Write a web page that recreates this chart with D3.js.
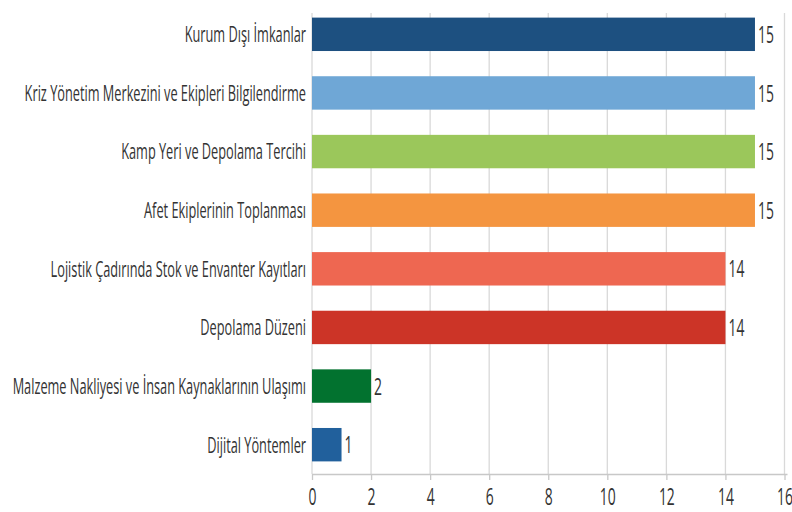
<!DOCTYPE html>
<meta charset="utf-8">
<html>
  <head>
    <title>Bar chart</title>
    <style>
      body { margin: 0; background: #fff; }
      text { font-family: "Open Sans", sans-serif; fill: #333; }
    </style>
  </head>
  <body>
  <script src="https://d3js.org/d3.v7.min.js"></script>
  <script>

  // data
  var categories = [
    "Kurum Dışı İmkanlar",
    "Kriz Yönetim Merkezini ve Ekipleri Bilgilendirme",
    "Kamp Yeri ve Depolama Tercihi",
    "Afet Ekiplerinin Toplanması",
    "Lojistik Çadırında Stok ve Envanter Kayıtları",
    "Depolama Düzeni",
    "Malzeme Nakliyesi ve İnsan Kaynaklarının Ulaşımı",
    "Dijital Yöntemler"
  ];
  var values = [15, 15, 15, 15, 14, 14, 2, 1];
  var barColors = ["#1d5080", "#6fa7d6", "#9bc75b", "#f49540", "#ee6751", "#cc3427", "#02722f", "#21609c"];
  var xTicks = [0, 2, 4, 6, 8, 10, 12, 14, 16];

  var width = 792, height = 512;
  var plotLeft = 312, plotRight = 784.5, plotTop = 5, plotBottom = 474;
  var squeeze = 0.58;   // the picture's text is narrow, squeeze it sideways

  var svg = d3.select("body").append("svg")
      .attr("width", width)
      .attr("height", height);

  var x = d3.scaleLinear()
      .domain([0, 16])
      .range([plotLeft, plotRight]);

  var y = d3.scaleBand()
      .domain(categories)
      .range([plotTop, plotBottom])
      .paddingInner(0.43)
      .paddingOuter(0.215);

  // gridlines
  svg.append("g")
    .selectAll("line")
      .data(xTicks)
    .enter().append("line")
      .attr("x1", function(d){ return x(d); })
      .attr("x2", function(d){ return x(d); })
      .attr("y1", 13)
      .attr("y2", plotBottom)
      .style("stroke", "#d9d9d9")
      .style("stroke-width", 1.3);

  // bars
  svg.append("g")
    .selectAll("rect")
      .data(values)
    .enter().append("rect")
      .attr("x", x(0))
      .attr("y", function(d, i){ return y(categories[i]); })
      .attr("width", function(d){ return x(d) - x(0); })
      .attr("height", y.bandwidth())
      .style("fill", function(d, i){ return barColors[i]; });

  // value labels
  svg.append("g")
    .selectAll("text")
      .data(values)
    .enter().append("text")
      .attr("transform", function(d, i){
        return "translate(" + (x(d) + 3) + "," + (y(categories[i]) + y.bandwidth() / 2) + ") scale(" + squeeze + ",1)";
      })
      .attr("dy", "0.36em")
      .style("font-size", "24px")
      .text(function(d){ return d; });

  // category labels
  var yAxis = d3.axisLeft(y).tickSize(0).tickPadding(0);
  var ga = svg.append("g")
      .attr("transform", "translate(" + plotLeft + ",0)")
      .call(yAxis);
  ga.select(".domain").remove();
  ga.selectAll("text")
      .attr("x", 0)
      .attr("dy", "0.36em")
      .attr("transform", "translate(-6,0) scale(" + squeeze + ",1)")
      .style("font-size", "22px")
      .style("font-family", null)
      .style("fill", "#333");

  // x axis
  var xAxis = d3.axisBottom(x).tickValues(xTicks).tickSize(6).tickPadding(8);
  var gx = svg.append("g")
      .attr("transform", "translate(0," + plotBottom + ")")
      .call(xAxis);
  gx.select(".domain").attr("d", "M" + plotLeft + ",0.5H" + (plotRight + 3)).style("stroke", "#c8c8c8").style("stroke-width", 1.3);
  gx.selectAll(".tick line").style("stroke", "#c8c8c8").style("stroke-width", 1.3);
  gx.selectAll("text")
      .attr("transform", "scale(" + squeeze + ",1)")
      .style("font-size", "24px")
      .style("font-family", null)
      .style("fill", "#333");

  </script>
  </body>
</html>
